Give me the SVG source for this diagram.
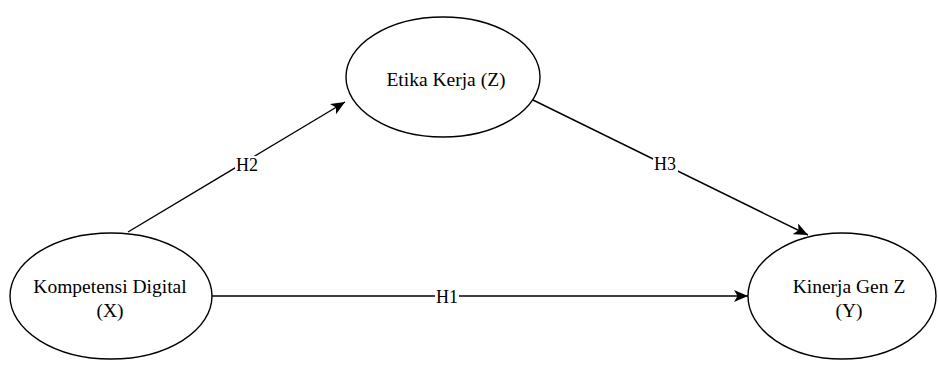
<svg xmlns="http://www.w3.org/2000/svg" width="938" height="365" viewBox="0 0 938 365">
<style>
.node ellipse{fill:#fff;stroke:#000;stroke-width:1.4}
.node text{font-size:19.5px;fill:#000;text-anchor:middle}
.edge{stroke:#000;stroke-width:1.4;fill:none;marker-end:url(#arr)}
.lbl rect{fill:#fff}
.lbl text{font-size:18px;fill:#000;text-anchor:middle;dominant-baseline:central}
</style>
<defs>
<marker id="arr" markerUnits="userSpaceOnUse" markerWidth="16" markerHeight="13" refX="14" refY="6" orient="auto">
<path d="M0,0 L14,6 L0,12 L3.5,6 z" fill="#000"/>
</marker>
</defs>
<rect width="938" height="365" fill="#fff"/>
<g id="connectors" font-family="'Liberation Serif', 'Times New Roman', serif">
<line class="edge" x1="128" y1="232" x2="345" y2="102"/>
<line class="edge" x1="533" y1="100" x2="808" y2="235"/>
<line class="edge" x1="212" y1="296" x2="748" y2="296"/>
<g class="lbl"><rect x="235" y="156" width="25" height="18"/><text x="247" y="165">H2</text></g>
<g class="lbl"><rect x="653" y="155" width="25" height="18"/><text x="665" y="164">H3</text></g>
<g class="lbl"><rect x="435" y="288" width="24" height="18"/><text x="447" y="297">H1</text></g>
</g>
<g id="node-z" class="node" font-family="'Liberation Serif', 'Times New Roman', serif">
<ellipse cx="443" cy="77" rx="97" ry="60"/>
<text x="446" y="86">Etika Kerja (Z)</text>
</g>
<g id="node-x" class="node" font-family="'Liberation Serif', 'Times New Roman', serif">
<ellipse cx="111" cy="296" rx="101" ry="63"/>
<text x="110" y="293">Kompetensi Digital</text>
<text x="110" y="317">(X)</text>
</g>
<g id="node-y" class="node" font-family="'Liberation Serif', 'Times New Roman', serif">
<ellipse cx="842" cy="296" rx="94" ry="63"/>
<text x="849" y="293">Kinerja Gen Z</text>
<text x="849" y="317">(Y)</text>
</g>
</svg>
